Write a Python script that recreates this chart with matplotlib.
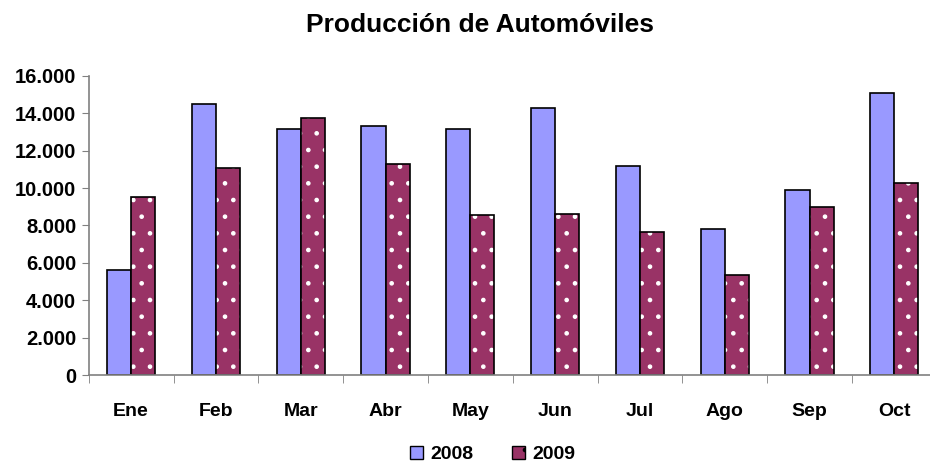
import matplotlib.pyplot as plt
import numpy as np

plt.rcParams['font.family'] = ['Liberation Sans', 'DejaVu Sans']
plt.rcParams['font.weight'] = 'bold'
plt.rcParams['hatch.linewidth'] = 0.9

meses = ['Ene', 'Feb', 'Mar', 'Abr', 'May', 'Jun', 'Jul', 'Ago', 'Sep', 'Oct']
prod_2008 = [5600, 14500, 13150, 13300, 13170, 14280, 11170, 7800, 9900, 15100]
prod_2009 = [9500, 11100, 13750, 11300, 8550, 8630, 7670, 5350, 9000, 10280]

fig = plt.figure(figsize=(9.3, 4.65), dpi=100)
ax = fig.add_axes([88.7/930, 90/465, 848/930, 299/465])

x = np.arange(len(meses))
w = 0.285
ax.bar(x - w/2, prod_2008, w, color='#9999FF', edgecolor='black', linewidth=1.2, label='2008')
# dotted fill: white hatch first, black outline on top
ax.bar(x + w/2, prod_2009, w, color='#993366', edgecolor='white', linewidth=0,
       hatch='.', label='2009')
ax.bar(x + w/2, prod_2009, w, fill=False, edgecolor='black', linewidth=1.2)

ax.set_xlim(-0.5, len(meses) - 0.5)
ax.set_ylim(0, 16000)
ticks = range(0, 16001, 2000)
ax.set_yticks(ticks)
ax.set_yticklabels(['{:,}'.format(v).replace(',', '.') for v in ticks],
                   fontsize=14.5, fontweight='bold')
ax.set_xticks(x)
ax.set_xticklabels(meses, fontsize=14, fontweight='bold')
ax.set_xticks(np.arange(-0.5, len(meses)), minor=True)
ax.tick_params(axis='x', which='major', length=0, pad=20)
ax.tick_params(axis='x', which='minor', length=6, color='#808080', direction='out')
ax.tick_params(axis='y', length=5, color='#808080', direction='out', pad=4)

for s in ['top', 'right']:
    ax.spines[s].set_visible(False)
for s in ['left', 'bottom']:
    ax.spines[s].set_color('#808080')
    ax.spines[s].set_linewidth(1.2)

fig.text(0.5156, 0.946, 'Producción de Automóviles', ha='center', va='center',
         fontsize=19, fontweight='bold')

handles, labels = ax.get_legend_handles_labels()
fig.legend(handles, labels, loc='center', bbox_to_anchor=(0.53, 0.022), ncol=2,
           frameon=False, fontsize=14, handlelength=0.65, handleheight=0.65,
           columnspacing=2.0, handletextpad=0.4, borderpad=0)
for p in fig.legends[0].get_patches():
    p.set_edgecolor('black')
    p.set_linewidth(1.0)

fig.savefig('out.png', dpi=100)
